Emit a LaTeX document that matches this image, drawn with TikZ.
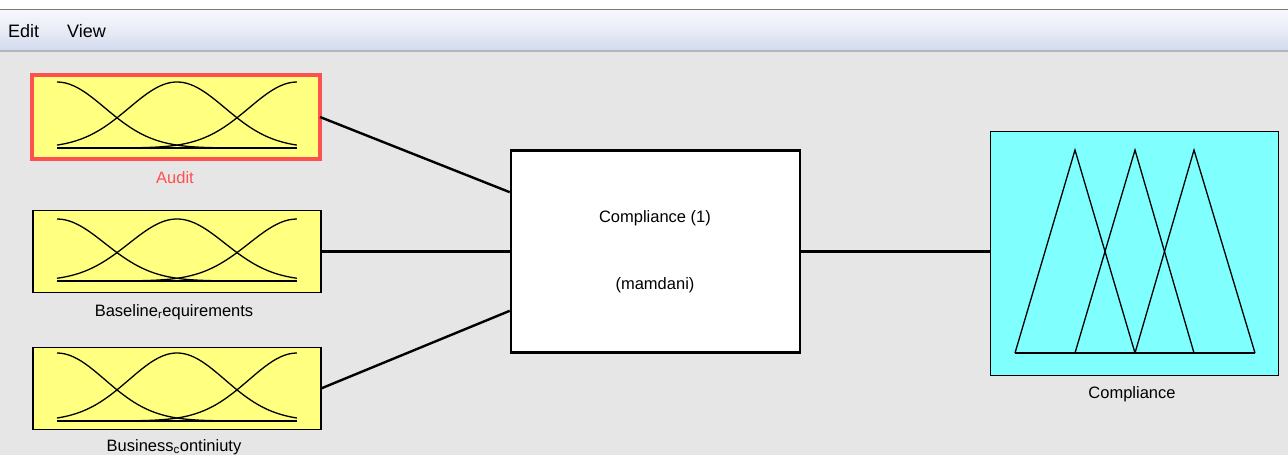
\documentclass[tikz,border=0pt]{standalone}
\usepackage{fontspec}
\setmainfont{Liberation Sans}
\usetikzlibrary{calc}
\definecolor{bg}{HTML}{E6E6E6}
\definecolor{mfyellow}{HTML}{FFFF80}
\definecolor{mfcyan}{HTML}{80FFFF}
\definecolor{selred}{HTML}{FF5050}
\definecolor{menutop}{HTML}{F7F8FC}
\definecolor{menubot}{HTML}{D3DAEE}
\definecolor{topline}{HTML}{7D7670}
\definecolor{menuline}{HTML}{B3B3B8}
\newcommand\gaussset[2]{% #1 top y, #2 bottom y
  \draw[mfcurve] (57,#2) -- (297,#2);
  \draw[mfcurve] plot[domain=0:1,samples=60] ({57+240*\x},{#2-(#2-#1)*exp(-((\x)^2)/0.08)});
  \draw[mfcurve] plot[domain=0:1,samples=80] ({57+240*\x},{#2-(#2-#1)*exp(-((\x-0.5)^2)/0.08)});
  \draw[mfcurve] plot[domain=0:1,samples=60] ({57+240*\x},{#2-(#2-#1)*exp(-((\x-1)^2)/0.08)});
}
\tikzset{
  inbox/.style={draw=black,line width=1.3pt,fill=mfyellow,minimum width=288pt,minimum height=82pt,inner sep=0pt,outer sep=0pt},
  mfcurve/.style={line width=1.3pt,black},
  lbl/.style={font=\fontsize{16.5}{18}\selectfont,text=black,inner sep=0pt},
  link/.style={line width=2.4pt,black},
}
\begin{document}
\begin{tikzpicture}[x=1pt,y=-1pt]
\clip (0,0) rectangle (1288,455);
\useasboundingbox (0,0) rectangle (1288,455);
\fill[bg] (0,0) rectangle (1288,455);
\fill[white] (0,0) rectangle (1288,9);
\fill[topline] (0,8.5) rectangle (1288,10.5);
\shade[top color=menutop,bottom color=menubot,middle color=menubot!40!menutop] (0,10.5) rectangle (1288,50);
\fill[menuline] (0,49.5) rectangle (1288,52);
\node[anchor=west,font=\fontsize{18}{20}\selectfont,inner sep=0pt] (medit) at (8,31) {Edit};
\node[anchor=west,font=\fontsize{18}{20}\selectfont,inner sep=0pt] (mview) at (67,31) {View};

% input boxes
\node[inbox,draw=selred,line width=4pt,minimum width=288pt,minimum height=84pt] (audit) at (176,117) {};
\node[inbox] (base) at (177,251.5) {};
\node[inbox] (bus) at (177,388.5) {};
\gaussset{82}{148}
\gaussset{219}{281}
\gaussset{353}{421}
\node[lbl,text=selred] (auditl) at (175,178) {Audit};
\node[lbl] (basel) at (174,312) {Baseline\textsubscript{r}equirements};
\node[lbl] (busl) at (174,447) {Business\textsubscript{c}ontiniuty};

% central box
\node[draw=black,line width=2.6pt,fill=white,minimum width=289pt,minimum height=202pt,inner sep=0pt] (cb) at (655.5,251.5) {};
\node[lbl] (cbt1) at (655,218) {Compliance (1)};
\node[lbl] (cbt2) at (655,285) {(mamdani)};

% output box
\node[draw=black,line width=1.3pt,fill=mfcyan,minimum width=288pt,minimum height=244pt,inner sep=0pt,outer sep=0pt] (out) at (1134.5,253.5) {};
\draw[mfcurve] (1015,353) -- (1255,353);
\draw[mfcurve] (1015,353) -- (1075,150) -- (1135,353);
\draw[mfcurve] (1075,353) -- (1135,150) -- (1194,353);
\draw[mfcurve] (1135,353) -- (1194,150) -- (1255,353);
\node[lbl] (outl) at (1132,394) {Compliance};

% connectors
\draw[link] (audit.east) -- ($(cb.north west)!0.21!(cb.south west)$);
\draw[link] (base.east) -- (cb.west);
\draw[link] (bus.east) -- ($(cb.north west)!0.79!(cb.south west)$);
\draw[link] (cb.east) -- (cb.east -| out.west);
\end{tikzpicture}
\end{document}
